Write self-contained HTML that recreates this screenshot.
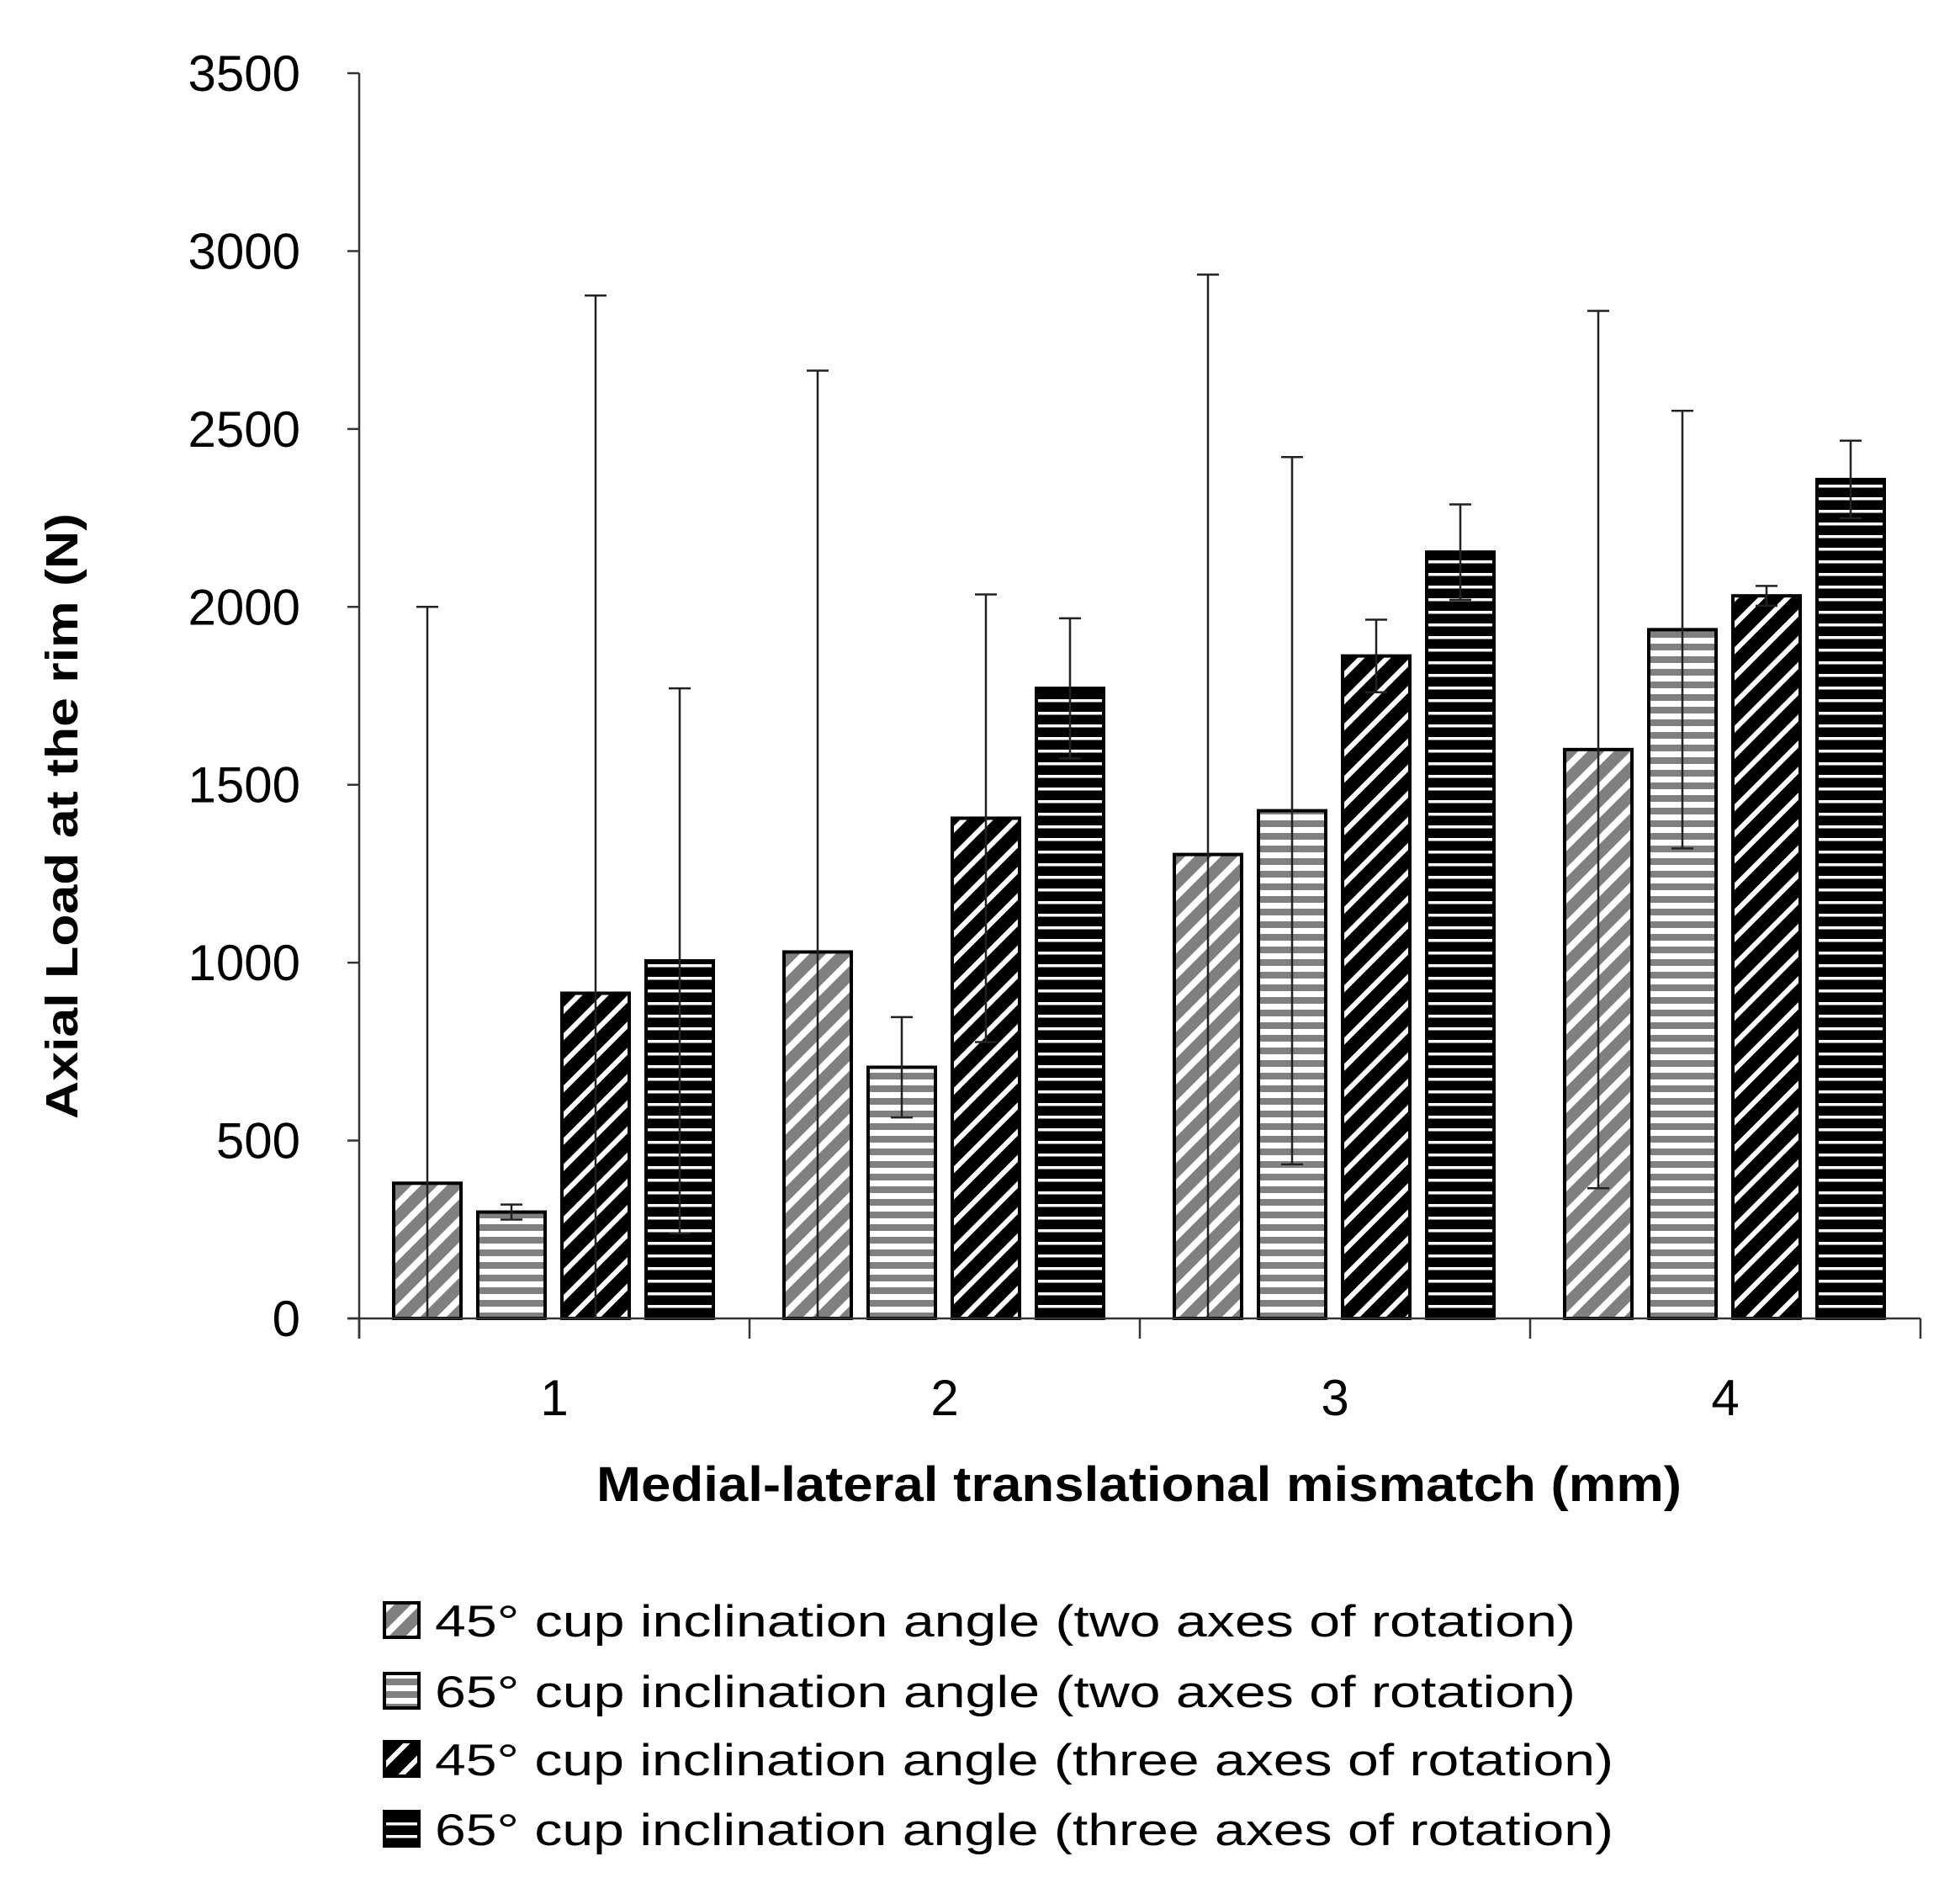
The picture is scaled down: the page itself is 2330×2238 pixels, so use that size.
<!DOCTYPE html>
<html><head><meta charset="utf-8"><style>
html,body{margin:0;padding:0;background:#fff;}
svg{display:block;font-family:"Liberation Sans",sans-serif;}
</style></head><body>
<svg id="chart" width="2330" height="2238" viewBox="0 0 2330 2238" xmlns="http://www.w3.org/2000/svg">
<defs>
<pattern id="p0" patternUnits="userSpaceOnUse" width="22" height="22" patternTransform="rotate(-45)">
<rect width="22" height="22" fill="#808080"/><rect width="22" height="8" fill="#fff"/></pattern>
<pattern id="p1" patternUnits="userSpaceOnUse" width="15" height="15">
<rect width="15" height="15" fill="#fff"/><rect y="0" width="15" height="8" fill="#808080"/></pattern>
<pattern id="p2" patternUnits="userSpaceOnUse" width="22" height="22" patternTransform="rotate(-45)">
<rect width="22" height="22" fill="#000"/><rect width="22" height="6" fill="#fff"/></pattern>
<pattern id="p3" patternUnits="userSpaceOnUse" width="15" height="15">
<rect width="15" height="15" fill="#000"/><rect y="6" width="15" height="3.5" fill="#fff"/></pattern>
</defs>
<g id="plot"></g>
<text x="1354" y="1784" font-size="58" font-weight="bold" text-anchor="middle" textLength="1290" lengthAdjust="spacingAndGlyphs">Medial-lateral translational mismatch (mm)</text>
<text transform="translate(92,970) rotate(-90)" font-size="54" font-weight="bold" text-anchor="middle" textLength="720" lengthAdjust="spacingAndGlyphs">Axial Load at the rim (N)</text>
<g id="legend"></g>
</svg>
<script>
const categories = ["1","2","3","4"];
const seriesNames = ["45° cup inclination angle (two axes of rotation)","65° cup inclination angle (two axes of rotation)","45° cup inclination angle (three axes of rotation)","65° cup inclination angle (three axes of rotation)"];
const s45two = [380,1030,1304,1599];
const s65two = [299,706,1427,1936];
const s45three = [914,1406,1862,2031];
const s65three = [1005,1771,2154,2358];
const e45two = [1620,1634,1630,1233];
const e65two = [21,141,994,615];
const e45three = [1961,629,102,28];
const e65three = [766,197,134,109];
const yTicks = [0,500,1000,1500,2000,2500,3000,3500];

const series=[s45two,s65two,s45three,s65three];
const errs=[e45two,e65two,e45three,e65three];
const NS="http://www.w3.org/2000/svg";
const X0=427,X1=2283,Y0=1567,Y1=87,YMAX=3500;
const y=v=>Y0-(v/YMAX)*(Y0-Y1);
const gw=(X1-X0)/categories.length;
const barW=80,step=100,off=41;
const bx=(g,s)=>X0+g*gw+off+s*step;
const plot=document.getElementById('plot');
function mk(tag,attrs,parent){const e=document.createElementNS(NS,tag);for(const k in attrs)e.setAttribute(k,attrs[k]);(parent||plot).appendChild(e);return e;}

yTicks.forEach(t=>{
  const l=mk('line',{x1:X0-14,x2:X0,y1:y(t),y2:y(t),stroke:'#333','stroke-width':2.5});
  
  
  const tx=mk('text',{x:357,y:y(t)+21,'font-size':60,'text-anchor':'end',fill:'#000'});
  tx.textContent=t;
  
  
});
const ya=mk('line',{x1:X0,x2:X0,y1:Y1,y2:Y0+24,stroke:'#333','stroke-width':2.5});



series.forEach((arr,s)=>{
  arr.forEach((v,g)=>{
    const r=mk('rect',{x:bx(g,s),y:y(v),width:barW,height:Y0-y(v),fill:'url(#p'+s+')',stroke:'#000','stroke-width':4});
    
    
  });
});
series.forEach((arr,s)=>{
  arr.forEach((v,g)=>{
    const cx=bx(g,s)+barW/2, hi=y(v+errs[s][g]), lo=y(Math.max(0,v-errs[s][g]));
    const eg=mk('g',{});
    
    
    mk('line',{x1:cx,x2:cx,y1:hi,y2:lo,stroke:'#222','stroke-width':2.5},eg);
    mk('line',{x1:cx-13,x2:cx+13,y1:hi,y2:hi,stroke:'#222','stroke-width':2.5},eg);
    if(v-errs[s][g]>0) mk('line',{x1:cx-13,x2:cx+13,y1:lo,y2:lo,stroke:'#222','stroke-width':2.5},eg);
  });
});
const xa=mk('line',{x1:X0-14,x2:X1,y1:Y0,y2:Y0,stroke:'#333','stroke-width':2.5});


for(let i=0;i<=categories.length;i++){
  const t=mk('line',{x1:X0+i*gw,x2:X0+i*gw,y1:Y0,y2:Y0+24,stroke:'#333','stroke-width':2.5});
  
  
}
categories.forEach((c,g)=>{
  const t=mk('text',{x:X0+g*gw+gw/2,y:1682,'font-size':60,'text-anchor':'middle'});
  t.textContent=c;
  
  
});

const leg=document.getElementById('legend');
const ly=[1945,2029,2110,2193];
const lw=[1356,1356,1401,1401];
seriesNames.forEach((n,i)=>{
  const g=mk('g',{},leg);
  
  
  mk('rect',{x:457,y:ly[i]-40,width:41,height:41,fill:'url(#p'+i+')',stroke:'#000','stroke-width':4},g);
  const t=mk('text',{x:517,y:ly[i],'font-size':53,textLength:lw[i],lengthAdjust:'spacingAndGlyphs'},g);
  t.textContent=n;
});
</script>
</body></html>
